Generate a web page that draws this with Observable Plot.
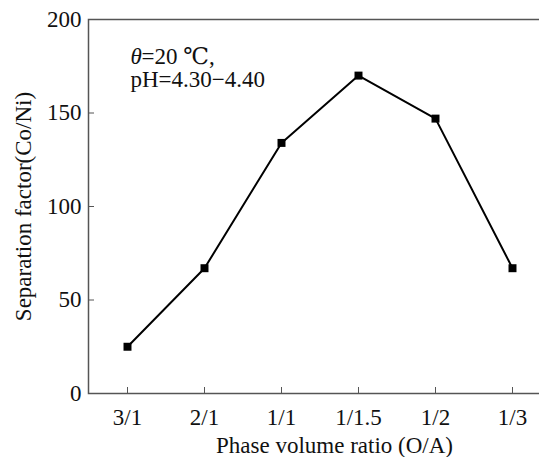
<!DOCTYPE html>
<html>
<head>
<meta charset="utf-8">
<script src="https://cdn.jsdelivr.net/npm/d3@7"></script>
<script src="https://cdn.jsdelivr.net/npm/@observablehq/plot@0.6"></script>
<style>
  html, body { margin: 0; padding: 0; background: #fff; overflow: hidden; }
  #chart svg { overflow: hidden; }
</style>
</head>
<body>
<div id="chart"></div>
<script>
const ratios = ["3/1", "2/1", "1/1", "1/1.5", "1/2", "1/3"];
const separationFactor = [25, 67, 134, 170, 147, 67];
const yTicks = [0, 50, 100, 150, 200];
const annotationSymbol = "θ";
const annotationLine1 = "=20 ℃,";
const annotationLine2 = "pH=4.30−4.40";

const data = ratios.map((r, i) => ({ratio: r, value: separationFactor[i]}));
const font = "'Liberation Serif', 'DejaVu Serif', 'Times New Roman', serif";
const frameColor = "#555";
const fs = 23;

const chart = Plot.plot({
  width: 539,
  height: 457,
  marginLeft: 88,
  marginRight: -11,
  marginTop: 19,
  marginBottom: 64,
  style: {fontFamily: font, fontSize: fs + "px", color: "#111", background: "#fff"},
  x: {type: "point", domain: ratios, padding: 0.5, label: null},
  y: {domain: [0, 200], label: null},
  marks: [
    Plot.frame({stroke: frameColor, strokeWidth: 1.5}),
    Plot.axisX({ticks: ratios, tickSize: -6, tickPadding: 21, stroke: frameColor, fontSize: fs, fontFamily: font, label: null}),
    Plot.axisY({ticks: yTicks, tickSize: -6, tickPadding: 13, stroke: frameColor, fontSize: fs, fontFamily: font, label: null}),
    Plot.text(["Phase volume ratio (O/A)"], {frameAnchor: "bottom", lineAnchor: "middle", dx: 15, dy: 52, fontSize: fs, fontFamily: font, textAnchor: "middle", text: d => d}),
    Plot.text(["Separation factor(Co/Ni)"], {frameAnchor: "left", lineAnchor: "middle", dx: -65, rotate: -90, fontSize: fs, fontFamily: font, textAnchor: "middle", text: d => d}),
    Plot.text([annotationSymbol], {frameAnchor: "top-left", lineAnchor: "middle", dx: 42, dy: 37, fontSize: fs, fontFamily: font, fontStyle: "italic", textAnchor: "start", text: d => d}),
    Plot.text([annotationLine1], {frameAnchor: "top-left", lineAnchor: "middle", dx: 53, dy: 37, fontSize: fs, fontFamily: font, textAnchor: "start", text: d => d}),
    Plot.text([annotationLine2], {frameAnchor: "top-left", lineAnchor: "middle", dx: 42, dy: 60, fontSize: fs, fontFamily: font, textAnchor: "start", text: d => d}),
    Plot.line(data, {x: "ratio", y: "value", stroke: "#000", strokeWidth: 2}),
    Plot.dot(data, {x: "ratio", y: "value", symbol: "square", r: 4.5, fill: "#000", stroke: "none"})
  ]
});
document.getElementById("chart").appendChild(chart);
</script>
</body>
</html>
